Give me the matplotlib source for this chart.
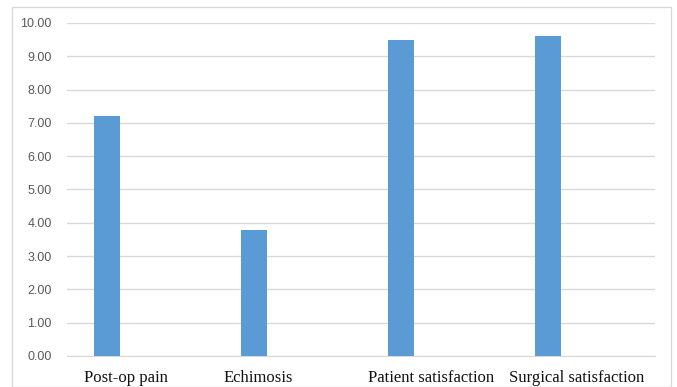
import matplotlib.pyplot as plt
from matplotlib.patches import Rectangle
from matplotlib.ticker import FormatStrFormatter

categories = ["Post-op pain", "Echimosis", "Patient satisfaction", "Surgical satisfaction"]
values = [7.2, 3.78, 9.5, 9.6]
label_pos = [-0.10, 0.80, 1.98, 2.97]

W, H = 677, 387
fig = plt.figure(figsize=(W / 100, H / 100), dpi=100)
fig.patch.set_facecolor("white")

# outer chart frame
fig.patches.append(Rectangle((12 / W, 0), 659 / W, (H - 7) / H, transform=fig.transFigure,
                             fill=False, edgecolor="#d9d9d9", linewidth=1.0))

ax = fig.add_axes([67 / W, 31 / H, 588 / W, 333 / H])
x = [i - 0.228 for i in range(len(values))]
ax.bar(x, values, width=0.18, color="#5b9bd5", zorder=3)

ax.set_xlim(-0.5, 3.5)
ax.set_ylim(0, 10)
ax.set_yticks([i for i in range(11)])
ax.yaxis.set_major_formatter(FormatStrFormatter("%.2f"))
ax.grid(axis="y", color="#d9d9d9", linewidth=1.0, zorder=0)
for s in ["top", "right", "left"]:
    ax.spines[s].set_visible(False)
ax.spines["bottom"].set_color("#d9d9d9")
ax.tick_params(axis="y", length=0, pad=11, labelsize=9, labelcolor="#595959")
for t in ax.get_yticklabels():
    t.set_family("Liberation Sans")

ax.set_xticks(label_pos)
ax.set_xticklabels(categories, family="Liberation Serif", fontsize=12, color="#111111")
ax.tick_params(axis="x", length=0, pad=10)

fig.savefig("out.png", dpi=100)
